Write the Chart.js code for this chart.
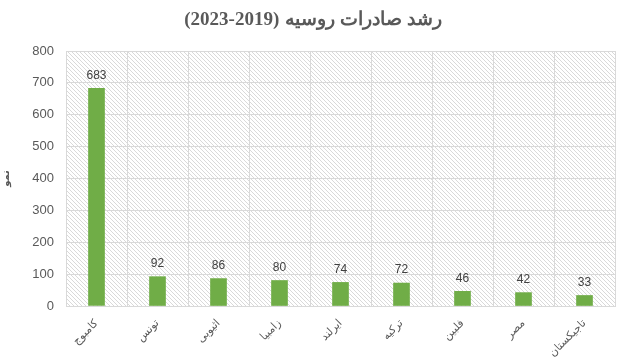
<!DOCTYPE html>
<html>
<head>
<meta charset="utf-8">
<script src="https://cdn.jsdelivr.net/npm/chart.js@4"></script>
<style>
  html, body { margin: 0; padding: 0; background: #fff; }
  #wrap { width: 626px; height: 361px; }
</style>
</head>
<body>
<div id="wrap"><canvas id="chart" width="626" height="361"></canvas></div>
<script>
// Russian export growth by destination (2019-2023)
const countries = ['كامبوج', 'تونس', 'اثيوبى', 'زامبيا', 'ايرلند', 'تركيه', 'فلبين', 'مصر', 'تاجيكستان'];
const growth = [683, 92, 86, 80, 74, 72, 46, 42, 33];
const yTicks = [0, 100, 200, 300, 400, 500, 600, 700, 800];
const titleYears = '(2023-2019)';
const titleWords = 'رشد صادرات روسيه';

const gridGray = '#d9d9d9';
const textGray = '#595959';

// diagonal hatch for the plot background
function makeHatch(ctx) {
  const c = document.createElement('canvas');
  c.width = 4; c.height = 4;
  const g = c.getContext('2d');
  g.strokeStyle = '#d9d9d9';
  g.lineWidth = 1;
  g.beginPath();
  g.moveTo(0, 0); g.lineTo(4, 4);
  g.moveTo(-1, 3); g.lineTo(1, 5);
  g.moveTo(3, -1); g.lineTo(5, 1);
  g.stroke();
  return ctx.createPattern(c, 'repeat');
}

const hatchBg = {
  id: 'hatchBg',
  beforeDraw(chart) {
    const { ctx, chartArea: a } = chart;
    ctx.save();
    ctx.fillStyle = makeHatch(ctx);
    ctx.fillRect(a.left, a.top, a.right - a.left, a.bottom - a.top);
    ctx.restore();
  }
};

// title drawn in two pieces so the years stay on the left, words on the right
const splitTitle = {
  id: 'splitTitle',
  afterDraw(chart) {
    const { ctx, width } = chart;
    ctx.save();
    ctx.font = 'bold 19px "Liberation Serif", "DejaVu Serif", serif';
    ctx.fillStyle = textGray;
    ctx.textBaseline = 'middle';
    ctx.textAlign = 'left';
    const gap = 6;
    const w1 = ctx.measureText(titleYears).width;
    const w2 = ctx.measureText(titleWords).width;
    const x0 = (width - (w1 + gap + w2)) / 2;
    ctx.fillText(titleYears, x0, 20);
    ctx.direction = 'rtl';
    ctx.textAlign = 'right';
    ctx.fillText(titleWords, x0 + w1 + gap + w2, 20);
    ctx.restore();
  }
};

const valueLabels = {
  id: 'valueLabels',
  afterDatasetsDraw(chart) {
    const { ctx } = chart;
    const meta = chart.getDatasetMeta(0);
    ctx.save();
    ctx.font = '12px "Liberation Sans", Arial, sans-serif';
    ctx.fillStyle = '#404040';
    ctx.textAlign = 'center';
    ctx.textBaseline = 'bottom';
    meta.data.forEach((bar, i) => {
      ctx.fillText(growth[i], bar.x, bar.y - 7);
    });
    ctx.restore();
  }
};

new Chart(document.getElementById('chart'), {
  type: 'bar',
  data: {
    labels: countries,
    datasets: [{
      data: growth,
      backgroundColor: '#70ad47',
      barThickness: 16
    }]
  },
  options: {
    responsive: false,
    animation: false,
    layout: { padding: { top: 51, right: 11, bottom: 0, left: 0 } },
    plugins: {
      legend: { display: false },
      tooltip: { enabled: false },
      title: { display: false }
    },
    scales: {
      x: {
        grid: { color: gridGray, offset: true, drawTicks: false },
        border: { color: gridGray },
        ticks: {
          color: textGray,
          font: { family: '"DejaVu Sans", sans-serif', size: 11 },
          minRotation: 45,
          maxRotation: 45,
          padding: 11
        },
        afterFit(scale) { scale.height = 55; }
      },
      y: {
        min: 0,
        max: 800,
        afterBuildTicks(scale) { scale.ticks = yTicks.map(v => ({ value: v })); },
        grid: { color: gridGray, drawTicks: false },
        border: { color: gridGray },
        ticks: {
          color: textGray,
          font: { family: '"Liberation Sans", Arial, sans-serif', size: 13 },
          padding: 12
        },
        title: {
          display: true,
          text: 'نمو',
          color: textGray,
          font: { family: '"DejaVu Sans", sans-serif', size: 10, weight: 'bold' },
          padding: 0
        },
        afterFit(scale) { scale.width = 66; }
      }
    }
  },
  plugins: [hatchBg, splitTitle, valueLabels]
});
</script>
</body>
</html>
